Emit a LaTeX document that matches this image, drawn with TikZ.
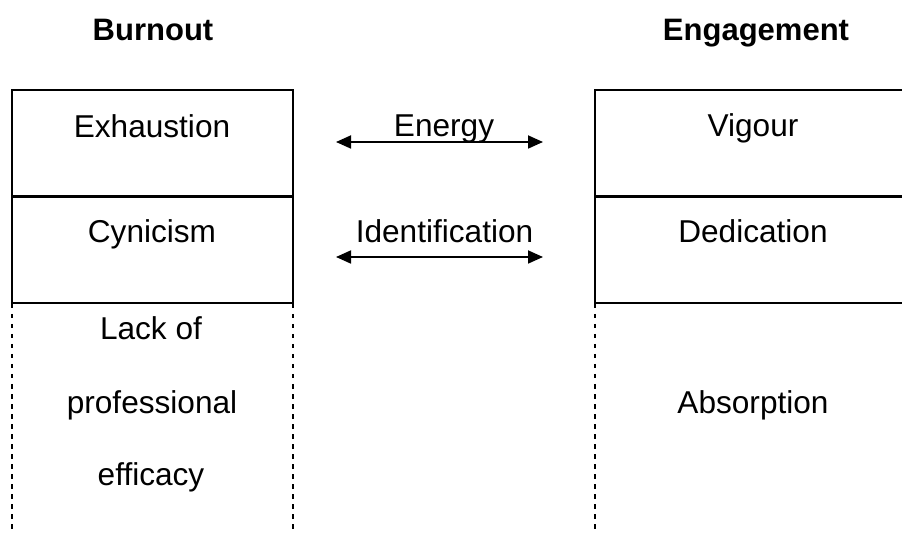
\documentclass[tikz,border=0pt]{standalone}
\usepackage{fontspec}
\setmainfont{Liberation Sans}
\usetikzlibrary{arrows.meta}
\begin{document}
\begin{tikzpicture}[x=1pt,y=-1pt,
  label/.style={anchor=base,inner sep=0pt,font=\fontsize{31.6}{36}\selectfont},
  head/.style={anchor=base,inner sep=0pt,font=\fontsize{31}{36}\selectfont\bfseries},
  frame/.style={line width=2.1pt},
  open/.style={line width=2.1pt,dash pattern=on 4.5pt off 5.5pt},
  link/.style={line width=1.8pt,{Triangle[length=15pt,width=13pt]}-{Triangle[length=15pt,width=13pt]}}]
\useasboundingbox (0,0) rectangle (902,534);

% column headings
\node[head] (burnout) at (153,41) {Burnout};
\node[head] (engage) at (756,41) {Engagement};

% burnout column
\draw[frame] (12,90) rectangle (293,303);
\draw[frame] (12,196.5) -- (293,196.5);
\draw[open] (12,304) -- (12,534);
\draw[open] (293,304) -- (293,534);
\node[label] (exh) at (152,138) {Exhaustion};
\node[label] (cyn) at (152,243) {Cynicism};
\node[label] (lack1) at (151,340) {Lack of};
\node[label] (lack2) at (152,413) {professional};
\node[label] (lack3) at (151,485) {efficacy};

% engagement column
\draw[frame] (902,90) -- (595,90) -- (595,303) -- (902,303);
\draw[frame] (595,196.5) -- (902,196.5);
\draw[open] (595,304) -- (595,534);
\node[label] (vig) at (753,137) {Vigour};
\node[label] (ded) at (753,243) {Dedication};
\node[label] (abs) at (753,413) {Absorption};

% links between the two columns
\coordinate (e1) at (336,142);
\coordinate (e2) at (543,142);
\coordinate (i1) at (336,257);
\coordinate (i2) at (543,257);
\draw[link] (e1) -- (e2);
\draw[link] (i1) -- (i2);
\node[label] (energy) at (444,137) {Energy};
\node[label] (ident) at (444.5,243) {Identification};
\end{tikzpicture}
\end{document}
